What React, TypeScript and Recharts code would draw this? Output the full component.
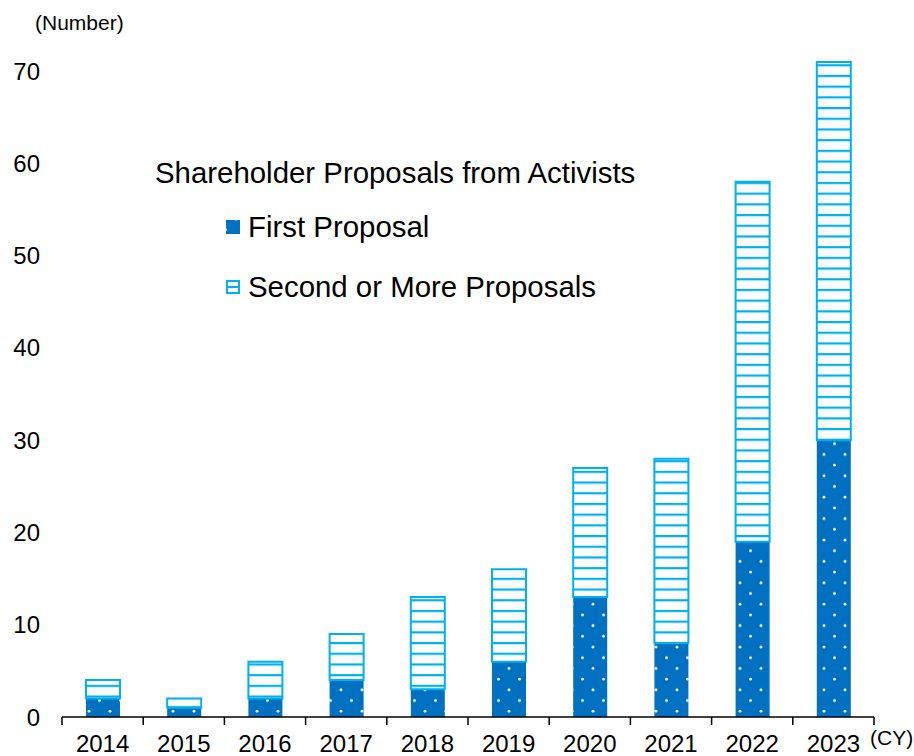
import { BarChart, Bar, XAxis, YAxis } from "recharts";

const years = ["2014", "2015", "2016", "2017", "2018", "2019", "2020", "2021", "2022", "2023"];
const firstProposal = [2, 1, 2, 4, 3, 6, 13, 8, 19, 30];
const secondOrMore = [2, 1, 4, 5, 10, 10, 14, 20, 39, 41];
const yTicks = [0, 10, 20, 30, 40, 50, 60, 70];
const seriesNames = ["First Proposal", "Second or More Proposals"];

const data = years.map((year, i) => ({
  year,
  first: firstProposal[i],
  second: secondOrMore[i],
}));

const FONT = "'Liberation Sans', Arial, sans-serif";
const DARK = "#0070C0";
const LIGHT = "#00B0F0";
const BAND = (914 - 62 - 40) / years.length;

const YearTick = (props: any) => {
  const { x, y, payload, index } = props;
  const last = index === years.length - 1;
  return (
    <g>
      <line x1={x - BAND / 2} x2={x - BAND / 2} y1={y - 8} y2={y} stroke="#000" strokeWidth={1.5} />
      {last && <line x1={x + BAND / 2} x2={x + BAND / 2} y1={y - 8} y2={y} stroke="#000" strokeWidth={1.5} />}
      <text x={x} y={y + 27} textAnchor="middle" fontSize={24} fill="#000" fontFamily={FONT}>
        {payload.value}
      </text>
    </g>
  );
};

export default function App() {
  return (
    <div style={{ position: "absolute", left: 0, top: 0, width: 914, height: 756, background: "#fff" }}>
      <svg width={0} height={0} style={{ position: "absolute" }}>
        <defs>
          <pattern id="dots" width={21} height={21.4} patternUnits="userSpaceOnUse">
            <rect width={21} height={21.4} fill={DARK} />
            <circle cx={5} cy={5} r={1.4} fill="#fff" />
            <circle cx={15.5} cy={15.7} r={1.4} fill="#fff" />
          </pattern>
          <pattern id="stripes" width={10} height={10.7} patternUnits="userSpaceOnUse">
            <rect width={10} height={10.7} fill="#fff" />
            <rect y={0} width={10} height={2.2} fill={LIGHT} />
          </pattern>
        </defs>
      </svg>
      <BarChart
        width={914}
        height={756}
        data={data}
        margin={{ top: 25, right: 40, left: 0, bottom: 0 }}
      >
        <XAxis
          dataKey="year"
          height={39}
          tickLine={false}
          axisLine={{ stroke: "#000", strokeWidth: 1.5 }}
          tick={<YearTick />}
          interval={0}
        />
        <YAxis
          width={62}
          domain={[0, 75]}
          ticks={yTicks}
          axisLine={false}
          tickLine={false}
          tickMargin={16}
          tick={{ fontSize: 24, fill: "#000", fontFamily: FONT }}
        />
        <Bar dataKey="first" name={seriesNames[0]} stackId="a" barSize={34} fill="url(#dots)" isAnimationActive={false} />
        <Bar dataKey="second" name={seriesNames[1]} stackId="a" barSize={34} fill="url(#stripes)" stroke={LIGHT} strokeWidth={2} isAnimationActive={false} />
      </BarChart>
      <svg width={914} height={756} style={{ position: "absolute", left: 0, top: 0, pointerEvents: "none" }} fontFamily={FONT}>
        <text x={35} y={30} fontSize={21} fill="#000">(Number)</text>
        <text x={870} y={745} fontSize={21} fill="#000">(CY)</text>
        <text x={155} y={183} fontSize={29.4} fill="#000">Shareholder Proposals from Activists</text>
        <rect x={226} y={220} width={14} height={14} fill="url(#dots)" />
        <text x={248} y={237} fontSize={29.4} fill="#000">{seriesNames[0]}</text>
        <rect x={227} y={281} width={12} height={12} fill="#fff" stroke={LIGHT} strokeWidth={2} />
        <line x1={227} x2={239} y1={287} y2={287} stroke={LIGHT} strokeWidth={2} />
        <text x={248} y={297} fontSize={29.4} fill="#000">{seriesNames[1]}</text>
      </svg>
    </div>
  );
}
